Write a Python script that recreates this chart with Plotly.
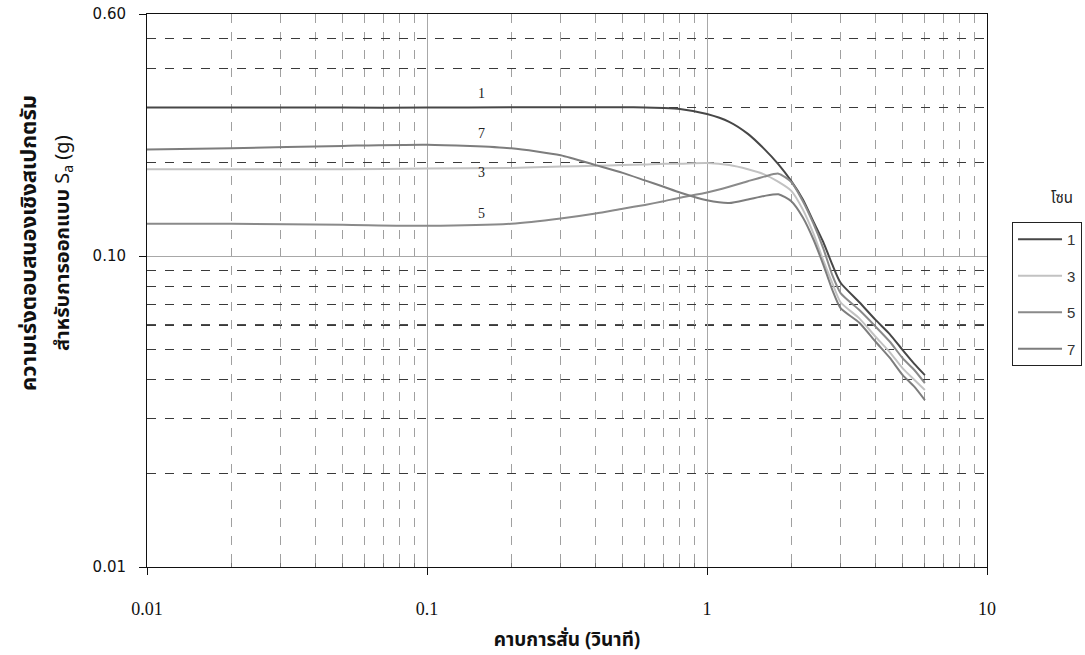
import math
import plotly.graph_objects as go

# ---------------- data ----------------
periods = [0.01, 0.02, 0.05, 0.1, 0.2, 0.3, 0.4, 0.5, 0.6, 0.7, 0.8, 1.0, 1.2, 1.4,
           1.6, 1.8, 2.0, 2.2, 2.4, 2.6, 2.8, 3.0, 3.5, 4.0, 4.5, 5.0, 5.5, 6.0]

sa_zone1 = [0.300, 0.300, 0.300, 0.300, 0.301, 0.301, 0.301, 0.301, 0.300, 0.299, 0.297,
            0.286, 0.270, 0.247, 0.221, 0.197, 0.174, 0.152, 0.129, 0.111, 0.094, 0.082,
            0.071, 0.0623, 0.056, 0.0498, 0.045, 0.0414]
sa_zone3 = [0.190, 0.190, 0.190, 0.191, 0.192, 0.194, 0.195, 0.196, 0.197, 0.198, 0.198,
            0.199, 0.196, 0.190, 0.183, 0.173, 0.162, 0.141, 0.118, 0.097, 0.082, 0.071,
            0.063, 0.055, 0.049, 0.0435, 0.040, 0.0371]
sa_zone5 = [0.127, 0.127, 0.126, 0.125, 0.127, 0.132, 0.137, 0.142, 0.146, 0.150, 0.154,
            0.160, 0.167, 0.174, 0.180, 0.184, 0.173, 0.150, 0.127, 0.106, 0.087, 0.076,
            0.067, 0.0593, 0.053, 0.0469, 0.043, 0.039]
sa_zone7 = [0.220, 0.222, 0.226, 0.228, 0.222, 0.211, 0.196, 0.185, 0.175, 0.167, 0.160,
            0.151, 0.148, 0.152, 0.156, 0.158, 0.150, 0.133, 0.113, 0.094, 0.078, 0.068,
            0.061, 0.053, 0.047, 0.0414, 0.038, 0.0344]

zone_names = ["1", "3", "5", "7"]
zone_colors = ["#474747", "#c2c2c2", "#8a8a8a", "#7d7d7d"]

# in-plot curve labels
label_text = ["1", "7", "3", "5"]
label_x = [0.156, 0.156, 0.156, 0.156]
label_y = [0.332, 0.247, 0.185, 0.137]

x_ticks = [0.01, 0.1, 1, 10]
x_ticktext = ["0.01", "0.1", "1", "10"]
y_ticks = [0.01, 0.1, 0.6]
y_ticktext = ["0.01", "0.10", "0.60"]

x_minor = [d * 10 ** e for e in (-2, -1, 0) for d in range(2, 10)]
y_minor = [d * 10 ** e for e in (-2, -1) for d in range(2, 10) if d * 10 ** e < 0.6]

THAI = "Tahoma, 'Noto Sans Thai', 'Loma', 'Garuda', 'DejaVu Sans', sans-serif"
SERIF = "'Liberation Serif', 'Times New Roman', serif"

fig = go.Figure()
for name, vals, col in zip(zone_names, [sa_zone1, sa_zone3, sa_zone5, sa_zone7], zone_colors):
    fig.add_trace(go.Scatter(
        x=periods, y=vals, mode="lines", name=name, legendgroup=name,
        line=dict(color=col, width=2, shape="spline", smoothing=0.6),
    ))

# annotations on log axes are placed in log10 units
for t, xv, yv in zip(label_text, label_x, label_y):
    fig.add_annotation(x=math.log10(xv), y=math.log10(yv), xref="x", yref="y", text=t,
                       showarrow=False, font=dict(family=SERIF, size=14, color="#222"),
                       xanchor="center", yanchor="middle")

# bold dashed 0.06 gridline as in the reference
fig.add_shape(type="line", xref="paper", x0=0, x1=1, yref="y", y0=0.06, y1=0.06,
              line=dict(color="#111", width=1.6, dash="dash"), layer="below")

# y-axis title (two lines, as two annotations)
fig.add_annotation(
    x=-0.1393, y=0.586, xref="paper", yref="paper", textangle=-90, showarrow=False,
    text="<b>ความเร่งตอบสนองเชิงสเปกตรัม</b>",
    font=dict(family=THAI, size=22, color="#111"),
    xanchor="center", yanchor="middle",
)
fig.add_annotation(
    x=-0.0988, y=0.586, xref="paper", yref="paper", textangle=-90, showarrow=False,
    text="<b>สำหรับการออกแบบ</b> S<sub>a</sub> (g)",
    font=dict(family=THAI, size=20, color="#111"),
    xanchor="center", yanchor="middle",
)
# legend title outside the box
fig.add_annotation(x=1.0893, y=0.667, xref="paper", yref="paper", text="โซน",
                   showarrow=False, font=dict(family=THAI, size=15, color="#222"),
                   xanchor="center", yanchor="middle")

fig.update_layout(
    width=1085, height=655,
    margin=dict(l=147, r=98, t=14, b=88, autoexpand=False),
    paper_bgcolor="white", plot_bgcolor="white",
    showlegend=True,
    legend=dict(x=1.0298, y=0.6239, xanchor="left", yanchor="top",
                bordercolor="#222", borderwidth=1, bgcolor="white",
                font=dict(family="'Liberation Sans', Arial, sans-serif", size=15, color="#333"),
                tracegroupgap=14, itemwidth=44),
    xaxis=dict(
        type="log", range=[-2, 1], automargin=False,
        tickmode="array", tickvals=x_ticks, ticktext=x_ticktext,
        tickfont=dict(family=SERIF, size=18, color="#111"),
        ticks="outside", ticklen=7, tickcolor="#111", ticklabelstandoff=18,
        showgrid=True, gridcolor="#a8a8a8", gridwidth=1,
        showline=True, linecolor="#111", linewidth=1, mirror=True,
        minor=dict(tickvals=x_minor, showgrid=True, gridcolor="#a0a0a0",
                   griddash="dash", gridwidth=1, ticks="inside", ticklen=4,
                   tickcolor="#777"),
        title=dict(text="<b>คาบการสั่น (วินาที)</b>",
                   font=dict(family=THAI, size=19, color="#111"), standoff=20),
        zeroline=False,
    ),
    yaxis=dict(
        type="log", range=[-2, math.log10(0.6)], automargin=False,
        tickmode="array", tickvals=y_ticks, ticktext=y_ticktext,
        tickfont=dict(family="'DejaVu Sans', sans-serif", size=15, color="#111"),
        ticks="outside", ticklen=7, tickcolor="#111", ticklabelstandoff=10,
        showgrid=True, gridcolor="#a8a8a8", gridwidth=1,
        showline=True, linecolor="#111", linewidth=1, mirror=True,
        minor=dict(tickvals=y_minor, showgrid=True, gridcolor="#3a3a3a",
                   griddash="dash", gridwidth=1, ticks=""),
        zeroline=False,
    ),
)

fig.write_html(
    "out.html",
    config={"displayModeBar": False},
    post_script="document.body.style.margin='0';document.body.style.overflow='hidden';",
)
